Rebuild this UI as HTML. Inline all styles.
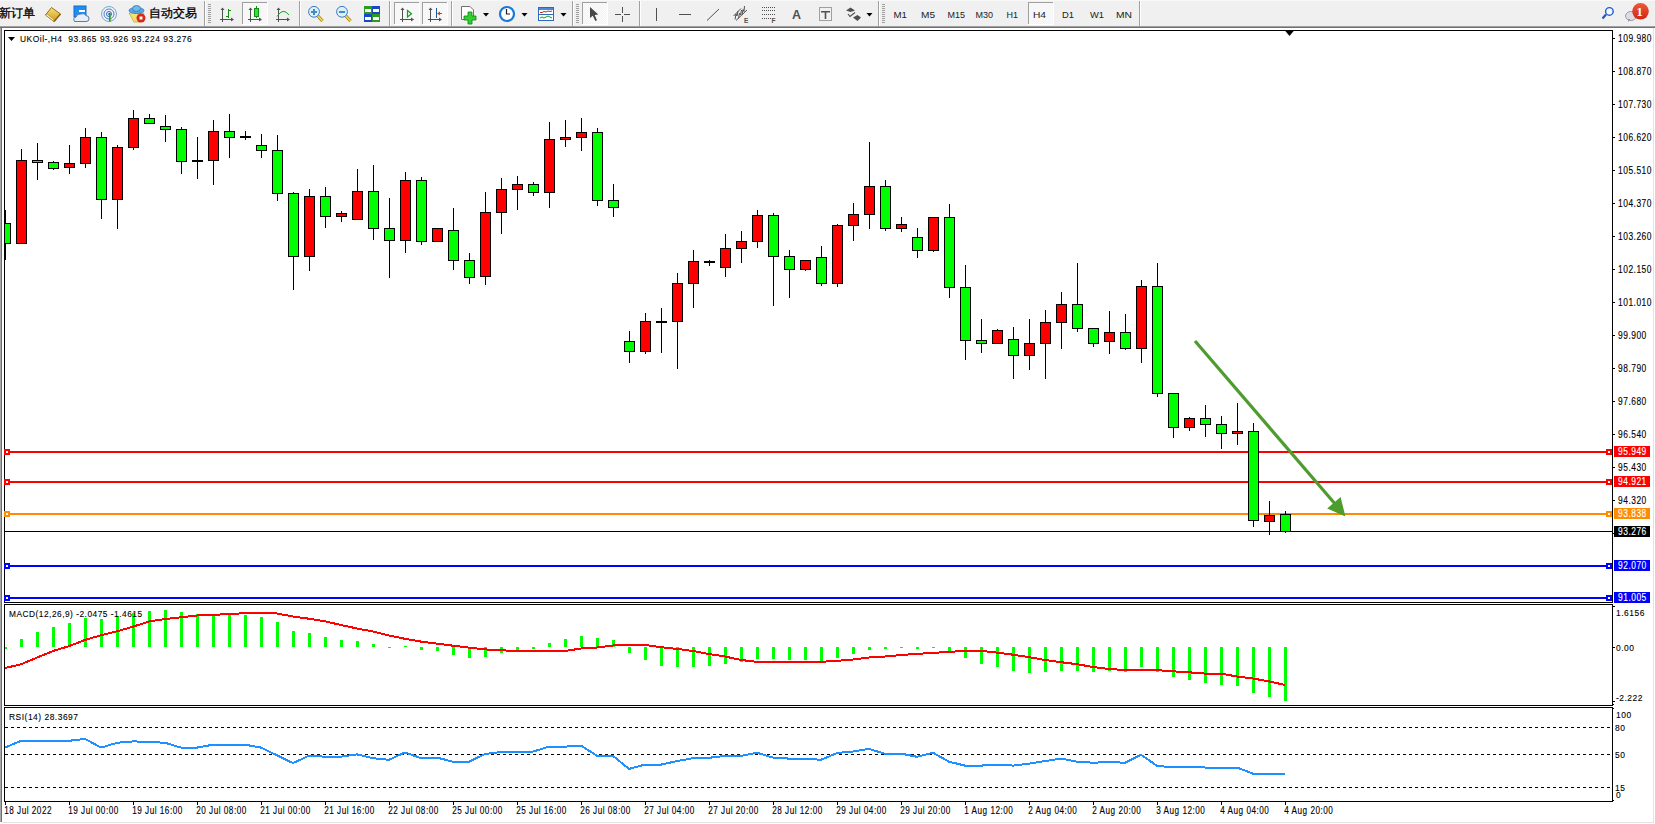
<!DOCTYPE html>
<html><head><meta charset="utf-8"><style>
html,body{margin:0;padding:0;}
body{width:1655px;height:824px;position:relative;overflow:hidden;background:#fff;font-family:"Liberation Sans",sans-serif;}
#tb{position:absolute;left:0;top:0;width:1655px;height:26px;background:#f0f0f0;}
#tbl1{position:absolute;left:0;top:26px;width:1655px;height:1px;background:#a0a0a0;}
#tbl2{position:absolute;left:0;top:27px;width:1655px;height:1px;background:#707070;}
#lb{position:absolute;left:0;top:28px;width:1px;height:794px;background:#a8a8a8;border-right:1px solid #6e6e6e;}
#rb{position:absolute;left:1653px;top:28px;width:1px;height:795px;background:#e3e3e3;}
#bb{position:absolute;left:2px;top:822px;width:1652px;height:1px;background:#e3e3e3;}
</style></head><body>
<div id="tb"><svg width="1655" height="26" style="position:absolute;left:0;top:0"><defs><pattern id="dith" width="2" height="2" patternUnits="userSpaceOnUse"><rect width="2" height="2" fill="#f4f4f4"/><rect width="1" height="1" fill="#fbfbfb"/><rect x="1" y="1" width="1" height="1" fill="#fbfbfb"/></pattern><linearGradient id="gold" x1="0" y1="0" x2="0" y2="1"><stop offset="0" stop-color="#f7e27a"/><stop offset="1" stop-color="#c99a1e"/></linearGradient><linearGradient id="redb" x1="0" y1="0" x2="0" y2="1"><stop offset="0" stop-color="#ec5a3a"/><stop offset="1" stop-color="#d42410"/></linearGradient></defs><rect width="1655" height="26" fill="#f0f0f0"/><rect width="1655" height="1" fill="#f8f8f8"/><text x="-1" y="17" font-size="12" fill="#000" stroke="#000" stroke-width="0.3" font-family="Liberation Sans, sans-serif">新订单</text><text x="149" y="17" font-size="12" fill="#000" stroke="#000" stroke-width="0.3" font-family="Liberation Sans, sans-serif">自动交易</text><polygon points="45.5,15 51.5,7.5 60.5,14 54,21.5" fill="url(#gold)" stroke="#a06a10" stroke-width="1"/><polygon points="45.5,15 54,21.5 54,19.5 47,14" fill="#fff4c0" stroke="#b07818" stroke-width="0.6"/><line x1="54" y1="21.5" x2="60.5" y2="14" stroke="#8a5a08" stroke-width="1.2"/><rect x="74" y="6" width="12" height="11" fill="#1e8ef0" stroke="#0d6ad0" stroke-width="1"/><rect x="79" y="10" width="6" height="2" fill="#fff"/><path d="M74.5,21.5 Q72.5,18 76,17 Q77,13.5 81,14 Q84,12.5 86,15.5 Q89.5,16 89,19 Q89,21.5 86,21.5 Z" fill="#e8eef8" stroke="#5a78a8" stroke-width="1"/><circle cx="109" cy="14" r="7.5" fill="none" stroke="#7aa8d8" stroke-width="1"/><circle cx="109" cy="14" r="5" fill="none" stroke="#4a84d0" stroke-width="1"/><circle cx="109" cy="14" r="2.5" fill="none" stroke="#3a6ac8" stroke-width="1"/><path d="M109,14 A7.5,7.5 0 0 1 110,21.5" fill="none" stroke="#8cc48c" stroke-width="1.5"/><rect x="108.5" y="13" width="2" height="2" fill="#1a48c0"/><rect x="109" y="14" width="1.5" height="7.5" fill="#20a020"/><polygon points="129,13 144,13 140,22 134,22" fill="#f2e070" stroke="#c8a830" stroke-width="0.8"/><ellipse cx="136.5" cy="10.5" rx="7.5" ry="3" fill="#5aa8e0" stroke="#2a78c0" stroke-width="0.8"/><ellipse cx="136.5" cy="8.5" rx="4" ry="3" fill="#70b8ec" stroke="#2a78c0" stroke-width="0.8"/><circle cx="141" cy="18" r="4.5" fill="#d82818"/><rect x="139.5" y="16.5" width="3" height="3" fill="#fff"/><rect x="204" y="1" width="1" height="25" fill="#a0a0a0"/><rect x="205" y="1" width="1" height="25" fill="#ffffff"/><rect x="208" y="4" width="3" height="1" fill="#a0a0a0"/><rect x="208" y="6" width="3" height="1" fill="#a0a0a0"/><rect x="208" y="8" width="3" height="1" fill="#a0a0a0"/><rect x="208" y="10" width="3" height="1" fill="#a0a0a0"/><rect x="208" y="12" width="3" height="1" fill="#a0a0a0"/><rect x="208" y="14" width="3" height="1" fill="#a0a0a0"/><rect x="208" y="16" width="3" height="1" fill="#a0a0a0"/><rect x="208" y="18" width="3" height="1" fill="#a0a0a0"/><rect x="208" y="20" width="3" height="1" fill="#a0a0a0"/><rect x="208" y="22" width="3" height="1" fill="#a0a0a0"/><rect x="222" y="9" width="1" height="13" fill="#505050"/><polygon points="220.5,10 224.5,10 222.5,7.5" fill="#505050"/><rect x="220" y="19" width="12" height="1" fill="#505050"/><polygon points="231,17.5 231,21.5 234,19.5" fill="#505050"/><rect x="228" y="9" width="1" height="9" fill="#109010"/><rect x="226" y="16" width="2" height="1" fill="#109010"/><rect x="229" y="10" width="2" height="1" fill="#109010"/><rect x="242" y="2" width="26" height="22" fill="url(#dith)"/><rect x="242" y="2" width="26" height="1" fill="#a0a0a0"/><rect x="242" y="2" width="1" height="22" fill="#a0a0a0"/><rect x="242" y="24" width="26" height="1" fill="#ffffff"/><rect x="267" y="2" width="1" height="23" fill="#ffffff"/><rect x="250" y="9" width="1" height="13" fill="#505050"/><polygon points="248.5,10 252.5,10 250.5,7.5" fill="#505050"/><rect x="248" y="19" width="12" height="1" fill="#505050"/><polygon points="259,17.5 259,21.5 262,19.5" fill="#505050"/><rect x="256" y="6" width="1" height="12" fill="#109010"/><rect x="254.5" y="8.5" width="4" height="8" fill="#30e040" stroke="#109010" stroke-width="1"/><rect x="278" y="9" width="1" height="13" fill="#505050"/><polygon points="276.5,10 280.5,10 278.5,7.5" fill="#505050"/><rect x="276" y="19" width="12" height="1" fill="#505050"/><polygon points="287,17.5 287,21.5 290,19.5" fill="#505050"/><path d="M277,16.5 Q283,7 289,15" fill="none" stroke="#20a030" stroke-width="1"/><rect x="299" y="1" width="1" height="25" fill="#a0a0a0"/><rect x="300" y="1" width="1" height="25" fill="#ffffff"/><line x1="317.5" y1="15.5" x2="322.5" y2="21" stroke="#a87818" stroke-width="3.2"/><line x1="317.5" y1="15.5" x2="322.5" y2="21" stroke="#f0d850" stroke-width="1.8"/><circle cx="314" cy="11.8" r="5.4" fill="#dcf0fc" stroke="#3a7cc8" stroke-width="1"/><rect x="311" y="11" width="6" height="2" fill="#4a8ab8"/><rect x="313" y="9" width="2" height="6" fill="#4a8ab8"/><line x1="345.5" y1="15.5" x2="350.5" y2="21" stroke="#a87818" stroke-width="3.2"/><line x1="345.5" y1="15.5" x2="350.5" y2="21" stroke="#f0d850" stroke-width="1.8"/><circle cx="342" cy="11.8" r="5.4" fill="#dcf0fc" stroke="#3a7cc8" stroke-width="1"/><rect x="339" y="11" width="6" height="2" fill="#4a8ab8"/><rect x="364" y="6" width="8" height="8" fill="#2a9a20"/><rect x="365" y="9" width="6" height="3" fill="#fff"/><rect x="372" y="6" width="8" height="8" fill="#1848c8"/><rect x="373" y="9" width="6" height="3" fill="#fff"/><rect x="364" y="14" width="8" height="8" fill="#1848c8"/><rect x="365" y="17" width="6" height="3" fill="#fff"/><rect x="372" y="14" width="8" height="8" fill="#2a9a20"/><rect x="373" y="17" width="6" height="3" fill="#fff"/><rect x="389" y="1" width="1" height="25" fill="#a0a0a0"/><rect x="390" y="1" width="1" height="25" fill="#ffffff"/><rect x="394" y="2" width="26" height="22" fill="url(#dith)"/><rect x="394" y="2" width="26" height="1" fill="#a0a0a0"/><rect x="394" y="2" width="1" height="22" fill="#a0a0a0"/><rect x="394" y="24" width="26" height="1" fill="#ffffff"/><rect x="419" y="2" width="1" height="23" fill="#ffffff"/><rect x="402" y="9" width="1" height="13" fill="#505050"/><polygon points="400.5,10 404.5,10 402.5,7.5" fill="#505050"/><rect x="400" y="19" width="12" height="1" fill="#505050"/><polygon points="411,17.5 411,21.5 414,19.5" fill="#505050"/><polygon points="407.5,10.5 407.5,17 411.5,13.7" fill="none" stroke="#10a020" stroke-width="1.2"/><rect x="422" y="2" width="26" height="22" fill="url(#dith)"/><rect x="422" y="2" width="26" height="1" fill="#a0a0a0"/><rect x="422" y="2" width="1" height="22" fill="#a0a0a0"/><rect x="422" y="24" width="26" height="1" fill="#ffffff"/><rect x="447" y="2" width="1" height="23" fill="#ffffff"/><rect x="430" y="9" width="1" height="13" fill="#505050"/><polygon points="428.5,10 432.5,10 430.5,7.5" fill="#505050"/><rect x="428" y="19" width="12" height="1" fill="#505050"/><polygon points="439,17.5 439,21.5 442,19.5" fill="#505050"/><rect x="436" y="8" width="1" height="10" fill="#1060a0"/><polygon points="437,13.5 440,11.5 440,15.5" fill="#e04010"/><rect x="439" y="13" width="3" height="1" fill="#e04010"/><rect x="451" y="1" width="1" height="25" fill="#a0a0a0"/><rect x="452" y="1" width="1" height="25" fill="#ffffff"/><path d="M461.5,6.5 H470 L473.5,10 V19.5 H461.5 Z" fill="#fff" stroke="#707070" stroke-width="1"/><path d="M468,12 H472 V16 H476 V20 H472 V24 H468 V20 H464 V16 H468 Z" fill="#30d030" stroke="#108010" stroke-width="0.8"/><polygon points="483,13 489,13 486,16.5" fill="#000"/><circle cx="507" cy="14" r="7" fill="#fff" stroke="#1a78d8" stroke-width="2.2"/><path d="M506.5,9 V14 H510" fill="none" stroke="#202020" stroke-width="1.2"/><polygon points="521.5,13 527.5,13 524.5,16.5" fill="#000"/><rect x="538.5" y="7.5" width="15" height="13" fill="#fff" stroke="#2a6ab8" stroke-width="1"/><rect x="539" y="8" width="14" height="2" fill="#4a8ad8"/><rect x="539" y="14" width="14" height="1" fill="#2a6ab8"/><polyline points="540,12.5 542,12.5 544,11.5 546,12 548,11 550,11.5 552,11" fill="none" stroke="#c03010" stroke-width="1"/><polyline points="540,18 542,17 544,18 546,17 548,16 550,17 552,18" fill="none" stroke="#10a020" stroke-width="1"/><polygon points="560.5,13 566.5,13 563.5,16.5" fill="#000"/><rect x="572" y="1" width="1" height="25" fill="#a0a0a0"/><rect x="573" y="1" width="1" height="25" fill="#ffffff"/><rect x="576" y="4" width="3" height="1" fill="#a0a0a0"/><rect x="576" y="6" width="3" height="1" fill="#a0a0a0"/><rect x="576" y="8" width="3" height="1" fill="#a0a0a0"/><rect x="576" y="10" width="3" height="1" fill="#a0a0a0"/><rect x="576" y="12" width="3" height="1" fill="#a0a0a0"/><rect x="576" y="14" width="3" height="1" fill="#a0a0a0"/><rect x="576" y="16" width="3" height="1" fill="#a0a0a0"/><rect x="576" y="18" width="3" height="1" fill="#a0a0a0"/><rect x="576" y="20" width="3" height="1" fill="#a0a0a0"/><rect x="576" y="22" width="3" height="1" fill="#a0a0a0"/><rect x="582" y="2" width="26" height="22" fill="url(#dith)"/><rect x="582" y="2" width="26" height="1" fill="#a0a0a0"/><rect x="582" y="2" width="1" height="22" fill="#a0a0a0"/><rect x="582" y="24" width="26" height="1" fill="#ffffff"/><rect x="607" y="2" width="1" height="23" fill="#ffffff"/><polygon points="590,7 590,18 592.8,15.7 595.3,21 597,20.2 594.7,15 598.3,14.6" fill="#484848"/><rect x="622" y="7" width="1" height="6" fill="#505050"/><rect x="622" y="16" width="1" height="6" fill="#505050"/><rect x="615" y="14" width="6" height="1" fill="#505050"/><rect x="624" y="14" width="6" height="1" fill="#505050"/><rect x="639" y="1" width="1" height="25" fill="#a0a0a0"/><rect x="640" y="1" width="1" height="25" fill="#ffffff"/><rect x="656" y="8" width="1" height="13" fill="#505050"/><rect x="679" y="14" width="12" height="1" fill="#505050"/><line x1="707" y1="20.5" x2="719" y2="9" stroke="#505050" stroke-width="1"/><line x1="733.5" y1="16" x2="741" y2="8.5" stroke="#505050" stroke-width="1"/><line x1="736" y1="20.5" x2="747" y2="10" stroke="#505050" stroke-width="1"/><polyline points="735,19.5 736,14 737,16 738,11" fill="none" stroke="#505050" stroke-width="1"/><polyline points="738.5,18.5 739.5,13 740.5,15 741.5,10" fill="none" stroke="#505050" stroke-width="1"/><polyline points="742,15 743,9.5 744,11.5 744.5,6" fill="none" stroke="#505050" stroke-width="1"/><text x="744" y="23" font-size="6.5" font-weight="bold" fill="#505050" font-family="Liberation Sans, sans-serif">E</text><line x1="762" y1="7.5" x2="776" y2="7.5" stroke="#505050" stroke-width="1" stroke-dasharray="1 1"/><line x1="762" y1="10.5" x2="776" y2="10.5" stroke="#505050" stroke-width="1" stroke-dasharray="1 1"/><line x1="762" y1="14.5" x2="776" y2="14.5" stroke="#505050" stroke-width="1" stroke-dasharray="1 1"/><line x1="762" y1="18.5" x2="771" y2="18.5" stroke="#505050" stroke-width="1" stroke-dasharray="1 1"/><text x="771.5" y="23" font-size="6.5" font-weight="bold" fill="#505050" font-family="Liberation Sans, sans-serif">F</text><text x="792" y="19.3" font-size="12.5" font-weight="bold" fill="#505050" font-family="Liberation Sans, sans-serif">A</text><rect x="819.5" y="7.5" width="12" height="13" fill="none" stroke="#505050" stroke-width="1" stroke-dasharray="1 1"/><rect x="821" y="11" width="9" height="1.5" fill="#505050"/><rect x="824.7" y="11" width="1.6" height="8" fill="#505050"/><polygon points="846,10.5 850.5,7.5 855,10.5 850.5,12" fill="#505050"/><polygon points="853,17.5 857.5,15 861,17.5 857.5,21" fill="#505050"/><polyline points="848,14 850,16.5 855,12.5" fill="none" stroke="#505050" stroke-width="1.2"/><polygon points="866.5,13 872.5,13 869.5,16.5" fill="#000"/><rect x="878" y="1" width="1" height="25" fill="#a0a0a0"/><rect x="879" y="1" width="1" height="25" fill="#ffffff"/><rect x="882" y="4" width="3" height="1" fill="#a0a0a0"/><rect x="882" y="6" width="3" height="1" fill="#a0a0a0"/><rect x="882" y="8" width="3" height="1" fill="#a0a0a0"/><rect x="882" y="10" width="3" height="1" fill="#a0a0a0"/><rect x="882" y="12" width="3" height="1" fill="#a0a0a0"/><rect x="882" y="14" width="3" height="1" fill="#a0a0a0"/><rect x="882" y="16" width="3" height="1" fill="#a0a0a0"/><rect x="882" y="18" width="3" height="1" fill="#a0a0a0"/><rect x="882" y="20" width="3" height="1" fill="#a0a0a0"/><rect x="882" y="22" width="3" height="1" fill="#a0a0a0"/><rect x="1028" y="2" width="26" height="22" fill="url(#dith)"/><rect x="1028" y="2" width="26" height="1" fill="#a0a0a0"/><rect x="1028" y="2" width="1" height="22" fill="#a0a0a0"/><rect x="1028" y="24" width="26" height="1" fill="#ffffff"/><rect x="1053" y="2" width="1" height="23" fill="#ffffff"/><text x="893.5" y="18" font-size="9.5" fill="#222" textLength="13.5" lengthAdjust="spacingAndGlyphs" font-family="Liberation Sans, sans-serif">M1</text><text x="921" y="18" font-size="9.5" fill="#222" textLength="14" lengthAdjust="spacingAndGlyphs" font-family="Liberation Sans, sans-serif">M5</text><text x="947.5" y="18" font-size="9.5" fill="#222" textLength="17.5" lengthAdjust="spacingAndGlyphs" font-family="Liberation Sans, sans-serif">M15</text><text x="975.5" y="18" font-size="9.5" fill="#222" textLength="17.5" lengthAdjust="spacingAndGlyphs" font-family="Liberation Sans, sans-serif">M30</text><text x="1006.5" y="18" font-size="9.5" fill="#222" textLength="11.5" lengthAdjust="spacingAndGlyphs" font-family="Liberation Sans, sans-serif">H1</text><text x="1033" y="18" font-size="9.5" fill="#222" textLength="13" lengthAdjust="spacingAndGlyphs" font-family="Liberation Sans, sans-serif">H4</text><text x="1062" y="18" font-size="9.5" fill="#222" textLength="12" lengthAdjust="spacingAndGlyphs" font-family="Liberation Sans, sans-serif">D1</text><text x="1090" y="18" font-size="9.5" fill="#222" textLength="14" lengthAdjust="spacingAndGlyphs" font-family="Liberation Sans, sans-serif">W1</text><text x="1116" y="18" font-size="9.5" fill="#222" textLength="16" lengthAdjust="spacingAndGlyphs" font-family="Liberation Sans, sans-serif">MN</text><rect x="1139" y="1" width="1" height="25" fill="#a0a0a0"/><rect x="1140" y="1" width="1" height="25" fill="#ffffff"/><line x1="1606" y1="14.5" x2="1602.5" y2="18.5" stroke="#1a58c8" stroke-width="2.2"/><circle cx="1609.4" cy="11.4" r="3.8" fill="#f4f6ff" stroke="#1a5cd8" stroke-width="1.4"/><ellipse cx="1631" cy="16" rx="5.5" ry="4.5" fill="#dcdce8" stroke="#a0a0a0" stroke-width="1"/><polygon points="1628,19 1630,19 1628.5,22.5" fill="#909090"/><circle cx="1640.5" cy="11.3" r="8.3" fill="url(#redb)"/><text x="1636.6" y="16.3" font-size="12.5" font-weight="bold" fill="#fff" font-family="Liberation Serif, serif">1</text></svg></div><div id="tbl1"></div><div id="tbl2"></div>
<div id="lb"></div><div id="rb"></div><div id="bb"></div>
<svg width="1655" height="824" style="position:absolute;left:0;top:0" font-family="Liberation Sans, sans-serif">
<g shape-rendering="crispEdges">
<!-- frames -->
<rect x="4" y="30" width="1609" height="1" fill="#000"/><rect x="4" y="30" width="1" height="573" fill="#000"/><rect x="1612" y="30" width="1" height="573" fill="#000"/><rect x="4" y="602" width="1609" height="1" fill="#000"/>
<rect x="4" y="604" width="1609" height="1" fill="#000"/><rect x="4" y="604" width="1" height="102" fill="#000"/><rect x="1612" y="604" width="1" height="102" fill="#000"/><rect x="4" y="705" width="1609" height="1" fill="#000"/>
<rect x="4" y="707" width="1609" height="1" fill="#000"/><rect x="4" y="707" width="1" height="95" fill="#000"/><rect x="1612" y="707" width="1" height="95" fill="#000"/><rect x="4" y="801" width="1609" height="1" fill="#000"/>
<svg x="5" y="31" width="1607" height="571" overflow="hidden"><g transform="translate(-5,-31)">
<rect x="5" y="451" width="1607" height="2" fill="#ff0000"/><rect x="1606" y="449" width="6" height="6" fill="#ff0000"/><rect x="1608" y="451" width="2" height="2" fill="#fff"/><rect x="5" y="481" width="1607" height="2" fill="#ff0000"/><rect x="1606" y="479" width="6" height="6" fill="#ff0000"/><rect x="1608" y="481" width="2" height="2" fill="#fff"/><rect x="5" y="513" width="1607" height="2" fill="#ff8c00"/><rect x="1606" y="511" width="6" height="6" fill="#ff8c00"/><rect x="1608" y="513" width="2" height="2" fill="#fff"/><rect x="5" y="565" width="1607" height="2" fill="#0000ff"/><rect x="1606" y="563" width="6" height="6" fill="#0000ff"/><rect x="1608" y="565" width="2" height="2" fill="#fff"/><rect x="5" y="597" width="1607" height="2" fill="#0000ff"/><rect x="1606" y="595" width="6" height="6" fill="#0000ff"/><rect x="1608" y="597" width="2" height="2" fill="#fff"/><rect x="5" y="531" width="1607" height="1" fill="#000"/>
<rect x="5" y="210" width="1" height="13" fill="#000"/><rect x="5" y="244" width="1" height="16" fill="#000"/><rect x="0" y="223" width="11" height="21" fill="#000"/><rect x="1" y="224" width="9" height="19" fill="#00ff00"/><rect x="21" y="149" width="1" height="11" fill="#000"/><rect x="16" y="160" width="11" height="84" fill="#000"/><rect x="17" y="161" width="9" height="82" fill="#ff0000"/><rect x="37" y="143" width="1" height="17" fill="#000"/><rect x="37" y="163" width="1" height="17" fill="#000"/><rect x="32" y="160" width="11" height="3" fill="#000"/><rect x="33" y="161" width="9" height="1" fill="#00ff00"/><rect x="53" y="161" width="1" height="1" fill="#000"/><rect x="53" y="169" width="1" height="1" fill="#000"/><rect x="48" y="162" width="11" height="7" fill="#000"/><rect x="49" y="163" width="9" height="5" fill="#00ff00"/><rect x="69" y="145" width="1" height="18" fill="#000"/><rect x="69" y="168" width="1" height="6" fill="#000"/><rect x="64" y="163" width="11" height="5" fill="#000"/><rect x="65" y="164" width="9" height="3" fill="#ff0000"/><rect x="85" y="128" width="1" height="9" fill="#000"/><rect x="85" y="164" width="1" height="4" fill="#000"/><rect x="80" y="137" width="11" height="27" fill="#000"/><rect x="81" y="138" width="9" height="25" fill="#ff0000"/><rect x="101" y="132" width="1" height="5" fill="#000"/><rect x="101" y="200" width="1" height="19" fill="#000"/><rect x="96" y="137" width="11" height="63" fill="#000"/><rect x="97" y="138" width="9" height="61" fill="#00ff00"/><rect x="117" y="145" width="1" height="2" fill="#000"/><rect x="117" y="200" width="1" height="29" fill="#000"/><rect x="112" y="147" width="11" height="53" fill="#000"/><rect x="113" y="148" width="9" height="51" fill="#ff0000"/><rect x="133" y="110" width="1" height="8" fill="#000"/><rect x="133" y="148" width="1" height="2" fill="#000"/><rect x="128" y="118" width="11" height="30" fill="#000"/><rect x="129" y="119" width="9" height="28" fill="#ff0000"/><rect x="149" y="114" width="1" height="4" fill="#000"/><rect x="144" y="118" width="11" height="6" fill="#000"/><rect x="145" y="119" width="9" height="4" fill="#00ff00"/><rect x="165" y="115" width="1" height="11" fill="#000"/><rect x="165" y="130" width="1" height="12" fill="#000"/><rect x="160" y="126" width="11" height="4" fill="#000"/><rect x="161" y="127" width="9" height="2" fill="#00ff00"/><rect x="181" y="127" width="1" height="2" fill="#000"/><rect x="181" y="162" width="1" height="12" fill="#000"/><rect x="176" y="129" width="11" height="33" fill="#000"/><rect x="177" y="130" width="9" height="31" fill="#00ff00"/><rect x="197" y="137" width="1" height="23" fill="#000"/><rect x="197" y="162" width="1" height="17" fill="#000"/><rect x="192" y="160" width="11" height="2" fill="#000"/><rect x="213" y="120" width="1" height="11" fill="#000"/><rect x="213" y="161" width="1" height="24" fill="#000"/><rect x="208" y="131" width="11" height="30" fill="#000"/><rect x="209" y="132" width="9" height="28" fill="#ff0000"/><rect x="229" y="114" width="1" height="17" fill="#000"/><rect x="229" y="138" width="1" height="20" fill="#000"/><rect x="224" y="131" width="11" height="7" fill="#000"/><rect x="225" y="132" width="9" height="5" fill="#00ff00"/><rect x="245" y="131" width="1" height="5" fill="#000"/><rect x="245" y="138" width="1" height="2" fill="#000"/><rect x="240" y="136" width="11" height="2" fill="#000"/><rect x="261" y="134" width="1" height="11" fill="#000"/><rect x="261" y="151" width="1" height="7" fill="#000"/><rect x="256" y="145" width="11" height="6" fill="#000"/><rect x="257" y="146" width="9" height="4" fill="#00ff00"/><rect x="277" y="135" width="1" height="15" fill="#000"/><rect x="277" y="194" width="1" height="7" fill="#000"/><rect x="272" y="150" width="11" height="44" fill="#000"/><rect x="273" y="151" width="9" height="42" fill="#00ff00"/><rect x="293" y="192" width="1" height="1" fill="#000"/><rect x="293" y="257" width="1" height="33" fill="#000"/><rect x="288" y="193" width="11" height="64" fill="#000"/><rect x="289" y="194" width="9" height="62" fill="#00ff00"/><rect x="309" y="189" width="1" height="7" fill="#000"/><rect x="309" y="257" width="1" height="14" fill="#000"/><rect x="304" y="196" width="11" height="61" fill="#000"/><rect x="305" y="197" width="9" height="59" fill="#ff0000"/><rect x="325" y="187" width="1" height="9" fill="#000"/><rect x="325" y="217" width="1" height="11" fill="#000"/><rect x="320" y="196" width="11" height="21" fill="#000"/><rect x="321" y="197" width="9" height="19" fill="#00ff00"/><rect x="341" y="211" width="1" height="2" fill="#000"/><rect x="341" y="217" width="1" height="5" fill="#000"/><rect x="336" y="213" width="11" height="4" fill="#000"/><rect x="337" y="214" width="9" height="2" fill="#ff0000"/><rect x="357" y="169" width="1" height="22" fill="#000"/><rect x="352" y="191" width="11" height="29" fill="#000"/><rect x="353" y="192" width="9" height="27" fill="#ff0000"/><rect x="373" y="165" width="1" height="26" fill="#000"/><rect x="373" y="229" width="1" height="11" fill="#000"/><rect x="368" y="191" width="11" height="38" fill="#000"/><rect x="369" y="192" width="9" height="36" fill="#00ff00"/><rect x="389" y="198" width="1" height="30" fill="#000"/><rect x="389" y="241" width="1" height="37" fill="#000"/><rect x="384" y="228" width="11" height="13" fill="#000"/><rect x="385" y="229" width="9" height="11" fill="#00ff00"/><rect x="405" y="172" width="1" height="8" fill="#000"/><rect x="405" y="241" width="1" height="12" fill="#000"/><rect x="400" y="180" width="11" height="61" fill="#000"/><rect x="401" y="181" width="9" height="59" fill="#ff0000"/><rect x="421" y="177" width="1" height="3" fill="#000"/><rect x="421" y="242" width="1" height="3" fill="#000"/><rect x="416" y="180" width="11" height="62" fill="#000"/><rect x="417" y="181" width="9" height="60" fill="#00ff00"/><rect x="432" y="228" width="11" height="14" fill="#000"/><rect x="433" y="229" width="9" height="12" fill="#ff0000"/><rect x="453" y="208" width="1" height="22" fill="#000"/><rect x="453" y="261" width="1" height="9" fill="#000"/><rect x="448" y="230" width="11" height="31" fill="#000"/><rect x="449" y="231" width="9" height="29" fill="#00ff00"/><rect x="469" y="253" width="1" height="7" fill="#000"/><rect x="469" y="278" width="1" height="6" fill="#000"/><rect x="464" y="260" width="11" height="18" fill="#000"/><rect x="465" y="261" width="9" height="16" fill="#00ff00"/><rect x="485" y="192" width="1" height="20" fill="#000"/><rect x="485" y="277" width="1" height="8" fill="#000"/><rect x="480" y="212" width="11" height="65" fill="#000"/><rect x="481" y="213" width="9" height="63" fill="#ff0000"/><rect x="501" y="178" width="1" height="11" fill="#000"/><rect x="501" y="213" width="1" height="21" fill="#000"/><rect x="496" y="189" width="11" height="24" fill="#000"/><rect x="497" y="190" width="9" height="22" fill="#ff0000"/><rect x="517" y="176" width="1" height="8" fill="#000"/><rect x="517" y="190" width="1" height="20" fill="#000"/><rect x="512" y="184" width="11" height="6" fill="#000"/><rect x="513" y="185" width="9" height="4" fill="#ff0000"/><rect x="533" y="182" width="1" height="2" fill="#000"/><rect x="533" y="193" width="1" height="3" fill="#000"/><rect x="528" y="184" width="11" height="9" fill="#000"/><rect x="529" y="185" width="9" height="7" fill="#00ff00"/><rect x="549" y="122" width="1" height="17" fill="#000"/><rect x="549" y="193" width="1" height="15" fill="#000"/><rect x="544" y="139" width="11" height="54" fill="#000"/><rect x="545" y="140" width="9" height="52" fill="#ff0000"/><rect x="565" y="120" width="1" height="17" fill="#000"/><rect x="565" y="140" width="1" height="7" fill="#000"/><rect x="560" y="137" width="11" height="3" fill="#000"/><rect x="561" y="138" width="9" height="1" fill="#ff0000"/><rect x="581" y="118" width="1" height="14" fill="#000"/><rect x="581" y="138" width="1" height="13" fill="#000"/><rect x="576" y="132" width="11" height="6" fill="#000"/><rect x="577" y="133" width="9" height="4" fill="#ff0000"/><rect x="597" y="128" width="1" height="4" fill="#000"/><rect x="597" y="201" width="1" height="5" fill="#000"/><rect x="592" y="132" width="11" height="69" fill="#000"/><rect x="593" y="133" width="9" height="67" fill="#00ff00"/><rect x="613" y="184" width="1" height="16" fill="#000"/><rect x="613" y="208" width="1" height="9" fill="#000"/><rect x="608" y="200" width="11" height="8" fill="#000"/><rect x="609" y="201" width="9" height="6" fill="#00ff00"/><rect x="629" y="331" width="1" height="10" fill="#000"/><rect x="629" y="352" width="1" height="11" fill="#000"/><rect x="624" y="341" width="11" height="11" fill="#000"/><rect x="625" y="342" width="9" height="9" fill="#00ff00"/><rect x="645" y="313" width="1" height="8" fill="#000"/><rect x="645" y="352" width="1" height="2" fill="#000"/><rect x="640" y="321" width="11" height="31" fill="#000"/><rect x="641" y="322" width="9" height="29" fill="#ff0000"/><rect x="661" y="308" width="1" height="13" fill="#000"/><rect x="661" y="323" width="1" height="30" fill="#000"/><rect x="656" y="321" width="11" height="2" fill="#000"/><rect x="677" y="273" width="1" height="10" fill="#000"/><rect x="677" y="322" width="1" height="47" fill="#000"/><rect x="672" y="283" width="11" height="39" fill="#000"/><rect x="673" y="284" width="9" height="37" fill="#ff0000"/><rect x="693" y="250" width="1" height="11" fill="#000"/><rect x="693" y="284" width="1" height="24" fill="#000"/><rect x="688" y="261" width="11" height="23" fill="#000"/><rect x="689" y="262" width="9" height="21" fill="#ff0000"/><rect x="709" y="260" width="1" height="1" fill="#000"/><rect x="709" y="263" width="1" height="3" fill="#000"/><rect x="704" y="261" width="11" height="2" fill="#000"/><rect x="725" y="234" width="1" height="14" fill="#000"/><rect x="725" y="268" width="1" height="9" fill="#000"/><rect x="720" y="248" width="11" height="20" fill="#000"/><rect x="721" y="249" width="9" height="18" fill="#ff0000"/><rect x="741" y="231" width="1" height="10" fill="#000"/><rect x="741" y="249" width="1" height="14" fill="#000"/><rect x="736" y="241" width="11" height="8" fill="#000"/><rect x="737" y="242" width="9" height="6" fill="#ff0000"/><rect x="757" y="210" width="1" height="5" fill="#000"/><rect x="757" y="242" width="1" height="6" fill="#000"/><rect x="752" y="215" width="11" height="27" fill="#000"/><rect x="753" y="216" width="9" height="25" fill="#ff0000"/><rect x="773" y="213" width="1" height="2" fill="#000"/><rect x="773" y="257" width="1" height="49" fill="#000"/><rect x="768" y="215" width="11" height="42" fill="#000"/><rect x="769" y="216" width="9" height="40" fill="#00ff00"/><rect x="789" y="250" width="1" height="6" fill="#000"/><rect x="789" y="270" width="1" height="28" fill="#000"/><rect x="784" y="256" width="11" height="14" fill="#000"/><rect x="785" y="257" width="9" height="12" fill="#00ff00"/><rect x="805" y="270" width="1" height="1" fill="#000"/><rect x="800" y="260" width="11" height="10" fill="#000"/><rect x="801" y="261" width="9" height="8" fill="#ff0000"/><rect x="821" y="246" width="1" height="11" fill="#000"/><rect x="821" y="284" width="1" height="2" fill="#000"/><rect x="816" y="257" width="11" height="27" fill="#000"/><rect x="817" y="258" width="9" height="25" fill="#00ff00"/><rect x="837" y="224" width="1" height="1" fill="#000"/><rect x="837" y="284" width="1" height="3" fill="#000"/><rect x="832" y="225" width="11" height="59" fill="#000"/><rect x="833" y="226" width="9" height="57" fill="#ff0000"/><rect x="853" y="203" width="1" height="11" fill="#000"/><rect x="853" y="226" width="1" height="15" fill="#000"/><rect x="848" y="214" width="11" height="12" fill="#000"/><rect x="849" y="215" width="9" height="10" fill="#ff0000"/><rect x="869" y="142" width="1" height="44" fill="#000"/><rect x="869" y="215" width="1" height="14" fill="#000"/><rect x="864" y="186" width="11" height="29" fill="#000"/><rect x="865" y="187" width="9" height="27" fill="#ff0000"/><rect x="885" y="180" width="1" height="6" fill="#000"/><rect x="885" y="229" width="1" height="2" fill="#000"/><rect x="880" y="186" width="11" height="43" fill="#000"/><rect x="881" y="187" width="9" height="41" fill="#00ff00"/><rect x="901" y="217" width="1" height="7" fill="#000"/><rect x="901" y="229" width="1" height="3" fill="#000"/><rect x="896" y="224" width="11" height="5" fill="#000"/><rect x="897" y="225" width="9" height="3" fill="#ff0000"/><rect x="917" y="228" width="1" height="9" fill="#000"/><rect x="917" y="251" width="1" height="7" fill="#000"/><rect x="912" y="237" width="11" height="14" fill="#000"/><rect x="913" y="238" width="9" height="12" fill="#00ff00"/><rect x="933" y="251" width="1" height="1" fill="#000"/><rect x="928" y="217" width="11" height="34" fill="#000"/><rect x="929" y="218" width="9" height="32" fill="#ff0000"/><rect x="949" y="204" width="1" height="13" fill="#000"/><rect x="949" y="288" width="1" height="10" fill="#000"/><rect x="944" y="217" width="11" height="71" fill="#000"/><rect x="945" y="218" width="9" height="69" fill="#00ff00"/><rect x="965" y="265" width="1" height="22" fill="#000"/><rect x="965" y="341" width="1" height="19" fill="#000"/><rect x="960" y="287" width="11" height="54" fill="#000"/><rect x="961" y="288" width="9" height="52" fill="#00ff00"/><rect x="981" y="319" width="1" height="21" fill="#000"/><rect x="981" y="344" width="1" height="9" fill="#000"/><rect x="976" y="340" width="11" height="4" fill="#000"/><rect x="977" y="341" width="9" height="2" fill="#00ff00"/><rect x="997" y="329" width="1" height="1" fill="#000"/><rect x="992" y="330" width="11" height="14" fill="#000"/><rect x="993" y="331" width="9" height="12" fill="#ff0000"/><rect x="1013" y="327" width="1" height="12" fill="#000"/><rect x="1013" y="356" width="1" height="23" fill="#000"/><rect x="1008" y="339" width="11" height="17" fill="#000"/><rect x="1009" y="340" width="9" height="15" fill="#00ff00"/><rect x="1029" y="319" width="1" height="24" fill="#000"/><rect x="1029" y="356" width="1" height="14" fill="#000"/><rect x="1024" y="343" width="11" height="13" fill="#000"/><rect x="1025" y="344" width="9" height="11" fill="#ff0000"/><rect x="1045" y="310" width="1" height="12" fill="#000"/><rect x="1045" y="344" width="1" height="35" fill="#000"/><rect x="1040" y="322" width="11" height="22" fill="#000"/><rect x="1041" y="323" width="9" height="20" fill="#ff0000"/><rect x="1061" y="292" width="1" height="12" fill="#000"/><rect x="1061" y="323" width="1" height="26" fill="#000"/><rect x="1056" y="304" width="11" height="19" fill="#000"/><rect x="1057" y="305" width="9" height="17" fill="#ff0000"/><rect x="1077" y="263" width="1" height="41" fill="#000"/><rect x="1077" y="329" width="1" height="3" fill="#000"/><rect x="1072" y="304" width="11" height="25" fill="#000"/><rect x="1073" y="305" width="9" height="23" fill="#00ff00"/><rect x="1093" y="344" width="1" height="3" fill="#000"/><rect x="1088" y="328" width="11" height="16" fill="#000"/><rect x="1089" y="329" width="9" height="14" fill="#00ff00"/><rect x="1109" y="311" width="1" height="21" fill="#000"/><rect x="1109" y="342" width="1" height="12" fill="#000"/><rect x="1104" y="332" width="11" height="10" fill="#000"/><rect x="1105" y="333" width="9" height="8" fill="#ff0000"/><rect x="1125" y="314" width="1" height="18" fill="#000"/><rect x="1125" y="349" width="1" height="1" fill="#000"/><rect x="1120" y="332" width="11" height="17" fill="#000"/><rect x="1121" y="333" width="9" height="15" fill="#00ff00"/><rect x="1141" y="280" width="1" height="6" fill="#000"/><rect x="1141" y="349" width="1" height="14" fill="#000"/><rect x="1136" y="286" width="11" height="63" fill="#000"/><rect x="1137" y="287" width="9" height="61" fill="#ff0000"/><rect x="1157" y="263" width="1" height="23" fill="#000"/><rect x="1157" y="394" width="1" height="3" fill="#000"/><rect x="1152" y="286" width="11" height="108" fill="#000"/><rect x="1153" y="287" width="9" height="106" fill="#00ff00"/><rect x="1173" y="428" width="1" height="10" fill="#000"/><rect x="1168" y="393" width="11" height="35" fill="#000"/><rect x="1169" y="394" width="9" height="33" fill="#00ff00"/><rect x="1189" y="417" width="1" height="1" fill="#000"/><rect x="1189" y="428" width="1" height="3" fill="#000"/><rect x="1184" y="418" width="11" height="10" fill="#000"/><rect x="1185" y="419" width="9" height="8" fill="#ff0000"/><rect x="1205" y="405" width="1" height="13" fill="#000"/><rect x="1205" y="425" width="1" height="12" fill="#000"/><rect x="1200" y="418" width="11" height="7" fill="#000"/><rect x="1201" y="419" width="9" height="5" fill="#00ff00"/><rect x="1221" y="416" width="1" height="8" fill="#000"/><rect x="1221" y="434" width="1" height="15" fill="#000"/><rect x="1216" y="424" width="11" height="10" fill="#000"/><rect x="1217" y="425" width="9" height="8" fill="#00ff00"/><rect x="1237" y="403" width="1" height="28" fill="#000"/><rect x="1237" y="434" width="1" height="11" fill="#000"/><rect x="1232" y="431" width="11" height="3" fill="#000"/><rect x="1233" y="432" width="9" height="1" fill="#ff0000"/><rect x="1253" y="423" width="1" height="8" fill="#000"/><rect x="1253" y="521" width="1" height="6" fill="#000"/><rect x="1248" y="431" width="11" height="90" fill="#000"/><rect x="1249" y="432" width="9" height="88" fill="#00ff00"/><rect x="1269" y="501" width="1" height="14" fill="#000"/><rect x="1269" y="522" width="1" height="13" fill="#000"/><rect x="1264" y="515" width="11" height="7" fill="#000"/><rect x="1265" y="516" width="9" height="5" fill="#ff0000"/><rect x="1285" y="511" width="1" height="3" fill="#000"/><rect x="1285" y="532" width="1" height="1" fill="#000"/><rect x="1280" y="514" width="11" height="18" fill="#000"/><rect x="1281" y="515" width="9" height="16" fill="#00ff00"/>
</g></svg>
<svg x="5" y="605" width="1607" height="100" overflow="hidden"><g transform="translate(-5,-605)">
<rect x="4" y="647" width="3" height="2" fill="#00ff00"/><rect x="20" y="639" width="3" height="8" fill="#00ff00"/><rect x="36" y="632" width="3" height="15" fill="#00ff00"/><rect x="52" y="627" width="3" height="20" fill="#00ff00"/><rect x="68" y="623" width="3" height="24" fill="#00ff00"/><rect x="84" y="618" width="3" height="29" fill="#00ff00"/><rect x="100" y="619" width="3" height="28" fill="#00ff00"/><rect x="116" y="616" width="3" height="31" fill="#00ff00"/><rect x="132" y="613" width="3" height="34" fill="#00ff00"/><rect x="148" y="611" width="3" height="36" fill="#00ff00"/><rect x="164" y="610" width="3" height="37" fill="#00ff00"/><rect x="180" y="612" width="3" height="35" fill="#00ff00"/><rect x="196" y="614" width="3" height="33" fill="#00ff00"/><rect x="212" y="615" width="3" height="32" fill="#00ff00"/><rect x="228" y="615" width="3" height="32" fill="#00ff00"/><rect x="244" y="615" width="3" height="32" fill="#00ff00"/><rect x="260" y="617" width="3" height="30" fill="#00ff00"/><rect x="276" y="622" width="3" height="25" fill="#00ff00"/><rect x="292" y="631" width="3" height="16" fill="#00ff00"/><rect x="308" y="633" width="3" height="14" fill="#00ff00"/><rect x="324" y="637" width="3" height="10" fill="#00ff00"/><rect x="340" y="640" width="3" height="7" fill="#00ff00"/><rect x="356" y="641" width="3" height="6" fill="#00ff00"/><rect x="372" y="644" width="3" height="3" fill="#00ff00"/><rect x="388" y="647" width="3" height="1" fill="#00ff00"/><rect x="404" y="646" width="3" height="1" fill="#00ff00"/><rect x="420" y="647" width="3" height="3" fill="#00ff00"/><rect x="436" y="647" width="3" height="4" fill="#00ff00"/><rect x="452" y="647" width="3" height="8" fill="#00ff00"/><rect x="468" y="647" width="3" height="11" fill="#00ff00"/><rect x="484" y="647" width="3" height="10" fill="#00ff00"/><rect x="500" y="647" width="3" height="6" fill="#00ff00"/><rect x="516" y="647" width="3" height="3" fill="#00ff00"/><rect x="532" y="647" width="3" height="2" fill="#00ff00"/><rect x="548" y="643" width="3" height="4" fill="#00ff00"/><rect x="564" y="639" width="3" height="8" fill="#00ff00"/><rect x="580" y="636" width="3" height="11" fill="#00ff00"/><rect x="596" y="638" width="3" height="9" fill="#00ff00"/><rect x="612" y="640" width="3" height="7" fill="#00ff00"/><rect x="628" y="647" width="3" height="6" fill="#00ff00"/><rect x="644" y="647" width="3" height="13" fill="#00ff00"/><rect x="660" y="647" width="3" height="19" fill="#00ff00"/><rect x="676" y="647" width="3" height="20" fill="#00ff00"/><rect x="692" y="647" width="3" height="20" fill="#00ff00"/><rect x="708" y="647" width="3" height="19" fill="#00ff00"/><rect x="724" y="647" width="3" height="17" fill="#00ff00"/><rect x="740" y="647" width="3" height="15" fill="#00ff00"/><rect x="756" y="647" width="3" height="12" fill="#00ff00"/><rect x="772" y="647" width="3" height="12" fill="#00ff00"/><rect x="788" y="647" width="3" height="13" fill="#00ff00"/><rect x="804" y="647" width="3" height="13" fill="#00ff00"/><rect x="820" y="647" width="3" height="14" fill="#00ff00"/><rect x="836" y="647" width="3" height="11" fill="#00ff00"/><rect x="852" y="647" width="3" height="7" fill="#00ff00"/><rect x="868" y="647" width="3" height="3" fill="#00ff00"/><rect x="884" y="647" width="3" height="2" fill="#00ff00"/><rect x="900" y="647" width="3" height="1" fill="#00ff00"/><rect x="916" y="647" width="3" height="2" fill="#00ff00"/><rect x="932" y="647" width="3" height="1" fill="#00ff00"/><rect x="948" y="647" width="3" height="4" fill="#00ff00"/><rect x="964" y="647" width="3" height="11" fill="#00ff00"/><rect x="980" y="647" width="3" height="17" fill="#00ff00"/><rect x="996" y="647" width="3" height="20" fill="#00ff00"/><rect x="1012" y="647" width="3" height="24" fill="#00ff00"/><rect x="1028" y="647" width="3" height="26" fill="#00ff00"/><rect x="1044" y="647" width="3" height="25" fill="#00ff00"/><rect x="1060" y="647" width="3" height="24" fill="#00ff00"/><rect x="1076" y="647" width="3" height="24" fill="#00ff00"/><rect x="1092" y="647" width="3" height="25" fill="#00ff00"/><rect x="1108" y="647" width="3" height="24" fill="#00ff00"/><rect x="1124" y="647" width="3" height="25" fill="#00ff00"/><rect x="1140" y="647" width="3" height="20" fill="#00ff00"/><rect x="1156" y="647" width="3" height="25" fill="#00ff00"/><rect x="1172" y="647" width="3" height="30" fill="#00ff00"/><rect x="1188" y="647" width="3" height="33" fill="#00ff00"/><rect x="1204" y="647" width="3" height="36" fill="#00ff00"/><rect x="1220" y="647" width="3" height="38" fill="#00ff00"/><rect x="1236" y="647" width="3" height="39" fill="#00ff00"/><rect x="1252" y="647" width="3" height="46" fill="#00ff00"/><rect x="1268" y="647" width="3" height="50" fill="#00ff00"/><rect x="1284" y="647" width="3" height="54" fill="#00ff00"/>
</g></svg>
</g>
<svg x="5" y="605" width="1607" height="100" overflow="hidden"><g transform="translate(-5,-605)">
<polyline points="5,668 21,664.3 37,657.6 53,651 69,646.1 85,640 101,635.2 117,631.3 133,626.7 149,621.5 165,619 181,617.3 197,615.5 213,614.9 229,614 245,613.2 261,612.7 277,613.5 293,616.5 309,618.7 325,621.3 341,625 357,628.5 373,631.5 389,635.5 405,638.8 421,641.6 437,643.6 453,645.7 469,647.6 485,649.4 501,650.3 517,651 565,651 581,648.5 597,647.5 613,645.5 629,644.9 645,645 661,647.2 677,648.9 693,651 709,654 725,656.5 741,660 757,661.8 821,661.8 837,660.8 853,659.5 869,657.5 885,656.5 901,655 917,653.9 933,652.9 949,651.9 965,650.9 981,650.9 997,652.6 1013,654.7 1029,657.1 1045,660 1061,662.2 1077,664.2 1093,667 1109,669 1125,670 1141,670 1157,670.1 1173,671.3 1189,672.3 1205,673.6 1221,673.6 1237,676.5 1253,678.5 1269,681.4 1285,684.9" fill="none" stroke="#ff0000" stroke-width="2" shape-rendering="crispEdges"/>
</g></svg>
<svg x="5" y="708" width="1607" height="93" overflow="hidden"><g transform="translate(-5,-708)">
<line x1="5" y1="727.5" x2="1612" y2="727.5" stroke="#000" stroke-width="1" stroke-dasharray="3 3" shape-rendering="crispEdges"/>
<line x1="5" y1="754.5" x2="1612" y2="754.5" stroke="#000" stroke-width="1" stroke-dasharray="3 3" shape-rendering="crispEdges"/>
<line x1="5" y1="787.5" x2="1612" y2="787.5" stroke="#000" stroke-width="1" stroke-dasharray="3 3" shape-rendering="crispEdges"/>
<polyline points="5,747.6 21,740.8 37,740.8 53,740.8 69,740.8 85,738.9 101,747.6 117,742.8 133,741.4 149,741.8 165,742.8 181,747.6 197,747.6 213,744.7 229,744.7 245,744.7 261,747.6 277,755.3 293,763.1 309,755.7 325,756.7 341,756.7 357,754.4 373,758.2 389,759.8 405,752.4 421,758.2 437,757.6 453,761.7 469,761.7 485,754.0 501,752.0 517,752.0 533,751.6 549,746.6 565,746.6 581,745.7 597,755.7 613,755.9 629,768.9 645,764.6 661,764.6 677,761.1 693,758.2 709,757.8 725,755.9 741,755.9 757,752.8 773,757.6 789,758.6 805,758.6 821,759.8 837,753.0 853,751.5 869,748.9 885,753.8 901,753.6 917,756.8 933,752.8 949,761.7 965,765.6 981,765.6 997,764.6 1013,765.6 1029,763.6 1045,761.1 1061,758.6 1077,761.7 1093,762.7 1109,762.1 1125,762.7 1141,754.7 1157,765.8 1173,767.5 1189,766.9 1205,767.5 1221,767.5 1237,767.5 1253,773.7 1269,773.7 1285,773.7" fill="none" stroke="#1e90ff" stroke-width="2" shape-rendering="crispEdges"/>
</g></svg>
<!-- arrow -->
<line x1="1195" y1="341" x2="1336" y2="505" stroke="#4e9c2e" stroke-width="3.2"/>
<polygon points="1345.4,516.4 1340.6,497.1 1327.2,508.6" fill="#4e9c2e"/>
<polygon points="1284.5,30 1294.5,30 1289.5,36" fill="#000"/>
<g shape-rendering="crispEdges"><rect x="1613" y="38" width="2" height="1" fill="#000"/><text transform="translate(1618,42) scale(0.86,1.06)" fill="#000" stroke="#000" stroke-width="0.12" letter-spacing="0.6" font-size="9.8">109.980</text><rect x="1613" y="71" width="2" height="1" fill="#000"/><text transform="translate(1618,75) scale(0.86,1.06)" fill="#000" stroke="#000" stroke-width="0.12" letter-spacing="0.6" font-size="9.8">108.870</text><rect x="1613" y="104" width="2" height="1" fill="#000"/><text transform="translate(1618,108) scale(0.86,1.06)" fill="#000" stroke="#000" stroke-width="0.12" letter-spacing="0.6" font-size="9.8">107.730</text><rect x="1613" y="137" width="2" height="1" fill="#000"/><text transform="translate(1618,141) scale(0.86,1.06)" fill="#000" stroke="#000" stroke-width="0.12" letter-spacing="0.6" font-size="9.8">106.620</text><rect x="1613" y="170" width="2" height="1" fill="#000"/><text transform="translate(1618,174) scale(0.86,1.06)" fill="#000" stroke="#000" stroke-width="0.12" letter-spacing="0.6" font-size="9.8">105.510</text><rect x="1613" y="203" width="2" height="1" fill="#000"/><text transform="translate(1618,207) scale(0.86,1.06)" fill="#000" stroke="#000" stroke-width="0.12" letter-spacing="0.6" font-size="9.8">104.370</text><rect x="1613" y="236" width="2" height="1" fill="#000"/><text transform="translate(1618,240) scale(0.86,1.06)" fill="#000" stroke="#000" stroke-width="0.12" letter-spacing="0.6" font-size="9.8">103.260</text><rect x="1613" y="269" width="2" height="1" fill="#000"/><text transform="translate(1618,273) scale(0.86,1.06)" fill="#000" stroke="#000" stroke-width="0.12" letter-spacing="0.6" font-size="9.8">102.150</text><rect x="1613" y="302" width="2" height="1" fill="#000"/><text transform="translate(1618,306) scale(0.86,1.06)" fill="#000" stroke="#000" stroke-width="0.12" letter-spacing="0.6" font-size="9.8">101.010</text><rect x="1613" y="335" width="2" height="1" fill="#000"/><text transform="translate(1618,339) scale(0.86,1.06)" fill="#000" stroke="#000" stroke-width="0.12" letter-spacing="0.6" font-size="9.8">99.900</text><rect x="1613" y="368" width="2" height="1" fill="#000"/><text transform="translate(1618,372) scale(0.86,1.06)" fill="#000" stroke="#000" stroke-width="0.12" letter-spacing="0.6" font-size="9.8">98.790</text><rect x="1613" y="401" width="2" height="1" fill="#000"/><text transform="translate(1618,405) scale(0.86,1.06)" fill="#000" stroke="#000" stroke-width="0.12" letter-spacing="0.6" font-size="9.8">97.680</text><rect x="1613" y="434" width="2" height="1" fill="#000"/><text transform="translate(1618,438) scale(0.86,1.06)" fill="#000" stroke="#000" stroke-width="0.12" letter-spacing="0.6" font-size="9.8">96.540</text><rect x="1613" y="467" width="2" height="1" fill="#000"/><text transform="translate(1618,471) scale(0.86,1.06)" fill="#000" stroke="#000" stroke-width="0.12" letter-spacing="0.6" font-size="9.8">95.430</text><rect x="1613" y="500" width="2" height="1" fill="#000"/><text transform="translate(1618,504) scale(0.86,1.06)" fill="#000" stroke="#000" stroke-width="0.12" letter-spacing="0.6" font-size="9.8">94.320</text><rect x="1614" y="446" width="36" height="11" fill="#ff0000"/><text transform="translate(1618,455) scale(0.86,1.06)" fill="#fff" stroke="#fff" stroke-width="0.12" letter-spacing="0.6" font-size="9.8">95.949</text><rect x="1614" y="476" width="36" height="11" fill="#ff0000"/><text transform="translate(1618,485) scale(0.86,1.06)" fill="#fff" stroke="#fff" stroke-width="0.12" letter-spacing="0.6" font-size="9.8">94.921</text><rect x="1614" y="508" width="36" height="11" fill="#ff8c00"/><text transform="translate(1618,517) scale(0.86,1.06)" fill="#fff" stroke="#fff" stroke-width="0.12" letter-spacing="0.6" font-size="9.8">93.838</text><rect x="1614" y="526" width="36" height="11" fill="#000"/><text transform="translate(1618,535) scale(0.86,1.06)" fill="#fff" stroke="#fff" stroke-width="0.12" letter-spacing="0.6" font-size="9.8">93.276</text><rect x="1614" y="560" width="36" height="11" fill="#0000ff"/><text transform="translate(1618,569) scale(0.86,1.06)" fill="#fff" stroke="#fff" stroke-width="0.12" letter-spacing="0.6" font-size="9.8">92.070</text><rect x="1614" y="592" width="36" height="11" fill="#0000ff"/><text transform="translate(1618,601) scale(0.86,1.06)" fill="#fff" stroke="#fff" stroke-width="0.12" letter-spacing="0.6" font-size="9.8">91.005</text><rect x="4" y="449" width="6" height="6" fill="#ff0000"/><rect x="6" y="451" width="2" height="2" fill="#fff"/><rect x="4" y="479" width="6" height="6" fill="#ff0000"/><rect x="6" y="481" width="2" height="2" fill="#fff"/><rect x="4" y="511" width="6" height="6" fill="#ff8c00"/><rect x="6" y="513" width="2" height="2" fill="#fff"/><rect x="4" y="563" width="6" height="6" fill="#0000ff"/><rect x="6" y="565" width="2" height="2" fill="#fff"/><rect x="4" y="595" width="6" height="6" fill="#0000ff"/><rect x="6" y="597" width="2" height="2" fill="#fff"/><rect x="1613" y="533" width="1" height="1" fill="#000"/><rect x="5" y="802" width="1" height="3" fill="#000"/><text transform="translate(4.2,814) scale(0.835,1.06)" fill="#000" stroke="#000" stroke-width="0.12" letter-spacing="0.6" font-size="9.8">18 Jul 2022</text><rect x="69" y="802" width="1" height="3" fill="#000"/><text transform="translate(68.2,814) scale(0.835,1.06)" fill="#000" stroke="#000" stroke-width="0.12" letter-spacing="0.6" font-size="9.8">19 Jul 00:00</text><rect x="133" y="802" width="1" height="3" fill="#000"/><text transform="translate(132.2,814) scale(0.835,1.06)" fill="#000" stroke="#000" stroke-width="0.12" letter-spacing="0.6" font-size="9.8">19 Jul 16:00</text><rect x="197" y="802" width="1" height="3" fill="#000"/><text transform="translate(196.2,814) scale(0.835,1.06)" fill="#000" stroke="#000" stroke-width="0.12" letter-spacing="0.6" font-size="9.8">20 Jul 08:00</text><rect x="261" y="802" width="1" height="3" fill="#000"/><text transform="translate(260.2,814) scale(0.835,1.06)" fill="#000" stroke="#000" stroke-width="0.12" letter-spacing="0.6" font-size="9.8">21 Jul 00:00</text><rect x="325" y="802" width="1" height="3" fill="#000"/><text transform="translate(324.2,814) scale(0.835,1.06)" fill="#000" stroke="#000" stroke-width="0.12" letter-spacing="0.6" font-size="9.8">21 Jul 16:00</text><rect x="389" y="802" width="1" height="3" fill="#000"/><text transform="translate(388.2,814) scale(0.835,1.06)" fill="#000" stroke="#000" stroke-width="0.12" letter-spacing="0.6" font-size="9.8">22 Jul 08:00</text><rect x="453" y="802" width="1" height="3" fill="#000"/><text transform="translate(452.2,814) scale(0.835,1.06)" fill="#000" stroke="#000" stroke-width="0.12" letter-spacing="0.6" font-size="9.8">25 Jul 00:00</text><rect x="517" y="802" width="1" height="3" fill="#000"/><text transform="translate(516.2,814) scale(0.835,1.06)" fill="#000" stroke="#000" stroke-width="0.12" letter-spacing="0.6" font-size="9.8">25 Jul 16:00</text><rect x="581" y="802" width="1" height="3" fill="#000"/><text transform="translate(580.2,814) scale(0.835,1.06)" fill="#000" stroke="#000" stroke-width="0.12" letter-spacing="0.6" font-size="9.8">26 Jul 08:00</text><rect x="645" y="802" width="1" height="3" fill="#000"/><text transform="translate(644.2,814) scale(0.835,1.06)" fill="#000" stroke="#000" stroke-width="0.12" letter-spacing="0.6" font-size="9.8">27 Jul 04:00</text><rect x="709" y="802" width="1" height="3" fill="#000"/><text transform="translate(708.2,814) scale(0.835,1.06)" fill="#000" stroke="#000" stroke-width="0.12" letter-spacing="0.6" font-size="9.8">27 Jul 20:00</text><rect x="773" y="802" width="1" height="3" fill="#000"/><text transform="translate(772.2,814) scale(0.835,1.06)" fill="#000" stroke="#000" stroke-width="0.12" letter-spacing="0.6" font-size="9.8">28 Jul 12:00</text><rect x="837" y="802" width="1" height="3" fill="#000"/><text transform="translate(836.2,814) scale(0.835,1.06)" fill="#000" stroke="#000" stroke-width="0.12" letter-spacing="0.6" font-size="9.8">29 Jul 04:00</text><rect x="901" y="802" width="1" height="3" fill="#000"/><text transform="translate(900.2,814) scale(0.835,1.06)" fill="#000" stroke="#000" stroke-width="0.12" letter-spacing="0.6" font-size="9.8">29 Jul 20:00</text><rect x="965" y="802" width="1" height="3" fill="#000"/><text transform="translate(964.2,814) scale(0.835,1.06)" fill="#000" stroke="#000" stroke-width="0.12" letter-spacing="0.6" font-size="9.8">1 Aug 12:00</text><rect x="1029" y="802" width="1" height="3" fill="#000"/><text transform="translate(1028.2,814) scale(0.835,1.06)" fill="#000" stroke="#000" stroke-width="0.12" letter-spacing="0.6" font-size="9.8">2 Aug 04:00</text><rect x="1093" y="802" width="1" height="3" fill="#000"/><text transform="translate(1092.2,814) scale(0.835,1.06)" fill="#000" stroke="#000" stroke-width="0.12" letter-spacing="0.6" font-size="9.8">2 Aug 20:00</text><rect x="1157" y="802" width="1" height="3" fill="#000"/><text transform="translate(1156.2,814) scale(0.835,1.06)" fill="#000" stroke="#000" stroke-width="0.12" letter-spacing="0.6" font-size="9.8">3 Aug 12:00</text><rect x="1221" y="802" width="1" height="3" fill="#000"/><text transform="translate(1220.2,814) scale(0.835,1.06)" fill="#000" stroke="#000" stroke-width="0.12" letter-spacing="0.6" font-size="9.8">4 Aug 04:00</text><rect x="1285" y="802" width="1" height="3" fill="#000"/><text transform="translate(1284.2,814) scale(0.835,1.06)" fill="#000" stroke="#000" stroke-width="0.12" letter-spacing="0.6" font-size="9.8">4 Aug 20:00</text></g>
<rect x="1613" y="606" width="2" height="1" fill="#000"/><rect x="1613" y="647" width="2" height="1" fill="#000"/><rect x="1613" y="701" width="2" height="1" fill="#000"/>
<text transform="translate(1616,616) scale(0.86,1.0)" fill="#000" stroke="#000" stroke-width="0.12" letter-spacing="0.6" font-size="9.8">1.6156</text><text transform="translate(1616,651) scale(0.86,1.0)" fill="#000" stroke="#000" stroke-width="0.12" letter-spacing="0.6" font-size="9.8">0.00</text><text transform="translate(1616,701) scale(0.86,1.0)" fill="#000" stroke="#000" stroke-width="0.12" letter-spacing="0.6" font-size="9.8">-2.222</text>
<text transform="translate(1616,718) scale(0.86,1.0)" fill="#000" stroke="#000" stroke-width="0.12" letter-spacing="0.6" font-size="9.8">100</text><text transform="translate(1615,731) scale(0.86,1.0)" fill="#000" stroke="#000" stroke-width="0.12" letter-spacing="0.6" font-size="9.8">80</text><text transform="translate(1615,758) scale(0.86,1.0)" fill="#000" stroke="#000" stroke-width="0.12" letter-spacing="0.6" font-size="9.8">50</text><rect x="1613" y="708" width="1" height="1" fill="#000"/><rect x="1613" y="800" width="1" height="1" fill="#000"/><rect x="1613" y="704" width="1" height="1" fill="#000"/>
<text transform="translate(1615,791) scale(0.86,1.0)" fill="#000" stroke="#000" stroke-width="0.12" letter-spacing="0.6" font-size="9.8">15</text><text transform="translate(1616,798) scale(0.86,1.0)" fill="#000" stroke="#000" stroke-width="0.12" letter-spacing="0.6" font-size="9.8">0</text>
<polygon points="8,37 15,37 11.5,41" fill="#000"/>
<text transform="translate(20,42) scale(0.86,1.0)" fill="#000" stroke="#000" stroke-width="0.12" letter-spacing="0.6" font-size="9.8">UKOil-,H4&#160; 93.865 93.926 93.224 93.276</text>
<text transform="translate(9,617) scale(0.85,1.0)" fill="#000" stroke="#000" stroke-width="0.12" letter-spacing="0.6" font-size="9.8">MACD(12,26,9) -2.0475 -1.4615</text>
<text transform="translate(9,720) scale(0.86,1.0)" fill="#000" stroke="#000" stroke-width="0.12" letter-spacing="0.6" font-size="9.8">RSI(14) 28.3697</text>
</svg>
</body></html>
